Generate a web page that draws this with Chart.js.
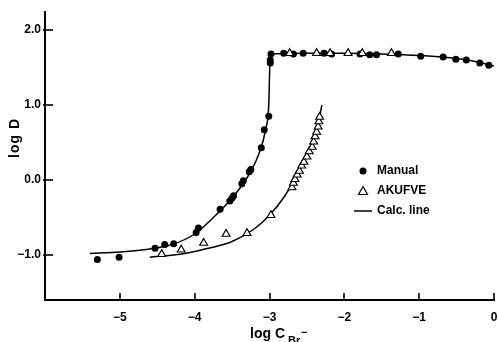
<!DOCTYPE html>
<html>
<head>
<meta charset="utf-8">
<script src="https://cdn.jsdelivr.net/npm/chart.js@4/dist/chart.umd.min.js"></script>
<style>
  html, body { margin: 0; padding: 0; background: #fff; }
  #wrap { width: 498px; height: 342px; position: relative; }
</style>
</head>
<body>
<div id="wrap"><canvas id="chart"></canvas></div>
<script>
// --- data: log D vs log C(Br-) ---
const manualX = [-5.30, -5.01, -4.53, -4.40, -4.28, -3.98, -3.95, -3.66, -3.53, -3.50, -3.48, -3.37, -3.35,
                 -3.27, -3.25, -3.11, -3.07, -3.01, -2.99, -2.99, -2.98, -2.81, -2.68, -2.55, -2.27, -2.17,
                 -1.79, -1.66, -1.57, -1.28, -0.98, -0.68, -0.51, -0.37, -0.19, -0.07];
const manualY = [-1.06, -1.03, -0.91, -0.86, -0.85, -0.70, -0.64, -0.39, -0.28, -0.24, -0.21, -0.05, -0.01,
                 0.11, 0.14, 0.43, 0.67, 0.85, 1.56, 1.60, 1.68, 1.69, 1.68, 1.69, 1.69, 1.68,
                 1.68, 1.67, 1.67, 1.68, 1.65, 1.64, 1.61, 1.60, 1.56, 1.53];

const akufveX = [-4.44, -4.18, -3.88, -3.58, -3.30, -2.98, -2.70, -2.68, -2.66, -2.63, -2.60, -2.57, -2.54,
                 -2.50, -2.47, -2.43, -2.41, -2.39, -2.37, -2.35, -2.34, -2.33,
                 -2.73, -2.37, -2.19, -1.95, -1.76, -1.37];
const akufveY = [-0.99, -0.93, -0.84, -0.72, -0.71, -0.47, -0.10, -0.04, 0.01, 0.07, 0.12, 0.19, 0.24,
                 0.31, 0.38, 0.44, 0.51, 0.58, 0.64, 0.71, 0.78, 0.84,
                 1.69, 1.69, 1.69, 1.69, 1.69, 1.69];

const calcManualX = [-5.4, -5.0, -4.6, -4.3, -4.0, -3.75, -3.5, -3.3, -3.15, -3.05, -3.01, -2.99,
                     -2.5, -2.0, -1.5, -1.0, -0.5, -0.2, 0];
const calcManualY = [-0.98, -0.96, -0.92, -0.86, -0.72, -0.50, -0.24, 0.03, 0.33, 0.68, 1.00, 1.68,
                     1.69, 1.69, 1.68, 1.66, 1.62, 1.57, 1.52];

const calcAkufveX = [-4.6, -4.2, -3.9, -3.5, -3.2, -3.0, -2.8, -2.6, -2.45, -2.35, -2.30];
const calcAkufveY = [-1.03, -0.99, -0.93, -0.82, -0.65, -0.47, -0.22, 0.12, 0.45, 0.75, 1.00];

const xTicks = [-5, -4, -3, -2, -1, 0];
const yTicks = [-1, 0, 1, 2];

const FONT = 'Liberation Sans';
const pts = (xs, ys) => xs.map((x, i) => ({ x: x, y: ys[i] }));
const minus = s => s.replace('-', '\u2212');

// inward tick marks, legend and axis titles
const decorPlugin = {
    id: 'decor',
    afterDraw(chart) {
        const ctx = chart.ctx;
        const xs = chart.scales.x, ys = chart.scales.y;
        const area = chart.chartArea;
        ctx.save();
        ctx.strokeStyle = '#000';
        ctx.lineWidth = 1.6;
        xTicks.forEach(v => {
            const px = Math.round(xs.getPixelForValue(v));
            ctx.beginPath();
            ctx.moveTo(px, area.bottom);
            ctx.lineTo(px, area.bottom - 7);
            ctx.stroke();
        });
        yTicks.forEach(v => {
            const py = Math.round(ys.getPixelForValue(v));
            ctx.beginPath();
            ctx.moveTo(area.left - 2, py);
            ctx.lineTo(area.left + 8, py);
            ctx.stroke();
        });

        // legend
        ctx.fillStyle = '#000';
        ctx.beginPath();
        ctx.arc(363, 171, 3.5, 0, Math.PI * 2);
        ctx.fill();
        ctx.lineWidth = 1.2;
        ctx.fillStyle = '#fff';
        ctx.beginPath();
        ctx.moveTo(363, 186.5);
        ctx.lineTo(367.5, 194.5);
        ctx.lineTo(358.5, 194.5);
        ctx.closePath();
        ctx.fill();
        ctx.stroke();
        ctx.lineWidth = 1.5;
        ctx.beginPath();
        ctx.moveTo(354, 211);
        ctx.lineTo(372, 211);
        ctx.stroke();

        ctx.fillStyle = '#000';
        ctx.font = 'bold 12px "' + FONT + '"';
        ctx.textAlign = 'left';
        ctx.textBaseline = 'middle';
        ctx.fillText('Manual', 377, 171);
        ctx.fillText('AKUFVE', 377, 191);
        ctx.fillText('Calc. line', 377, 211);

        // x title with subscript
        ctx.textBaseline = 'alphabetic';
        ctx.font = 'bold 14px "' + FONT + '"';
        ctx.fillText('log C', 250, 338);
        ctx.font = 'bold 11px "' + FONT + '"';
        ctx.fillText('Br', 288, 344);
        ctx.fillText('\u2212', 301, 336);

        // y title
        ctx.font = 'bold 14px "' + FONT + '"';
        ctx.letterSpacing = '1px';
        ctx.translate(15, 138);
        ctx.rotate(-Math.PI / 2);
        ctx.textAlign = 'center';
        ctx.textBaseline = 'middle';
        ctx.fillText('log D', 0, 0);
        ctx.restore();
    }
};

document.addEventListener('DOMContentLoaded', () => {
    const ctx = document.getElementById('chart').getContext('2d');
    new Chart(ctx, {
        type: 'scatter',
        data: {
            datasets: [{
                label: 'Manual',
                data: pts(manualX, manualY),
                pointStyle: 'circle',
                pointRadius: 3.5,
                backgroundColor: '#000',
                borderColor: '#000',
                borderWidth: 0,
                order: 1
            }, {
                label: 'AKUFVE',
                data: pts(akufveX, akufveY),
                pointStyle: 'triangle',
                pointRadius: 4.5,
                backgroundColor: '#fff',
                borderColor: '#000',
                borderWidth: 1.2,
                order: 0
            }, {
                label: 'Calc. line',
                data: pts(calcManualX, calcManualY),
                showLine: true,
                pointRadius: 0,
                borderColor: '#000',
                borderWidth: 1.5,
                cubicInterpolationMode: 'monotone',
                order: 2
            }, {
                label: 'Calc. line 2',
                data: pts(calcAkufveX, calcAkufveY),
                showLine: true,
                pointRadius: 0,
                borderColor: '#000',
                borderWidth: 1.5,
                cubicInterpolationMode: 'monotone',
                order: 2
            }]
        },
        options: {
            responsive: true,
            maintainAspectRatio: false,
            animation: false,
            layout: { autoPadding: false, padding: { top: 12, right: 4, left: 0, bottom: 0 } },
            plugins: { legend: { display: false }, tooltip: { enabled: false } },
            scales: {
                x: {
                    type: 'linear',
                    min: -6, max: 0,
                    afterBuildTicks: s => { s.ticks = xTicks.map(v => ({ value: v })); },
                    afterFit: s => { s.height = 42; s.paddingLeft = 0; s.paddingRight = 0; },
                    grid: { display: false, drawTicks: false },
                    border: { display: true, color: '#000', width: 2 },
                    ticks: {
                        color: '#000',
                        padding: 10,
                        font: { family: FONT, size: 12, weight: 'bold' },
                        callback: v => minus(String(v))
                    }
                },
                y: {
                    type: 'linear',
                    min: -1.6, max: 2.24,
                    afterBuildTicks: s => { s.ticks = yTicks.map(v => ({ value: v })); },
                    afterFit: s => { s.width = 45; s.paddingTop = 0; s.paddingBottom = 0; },
                    grid: { display: false, drawTicks: false },
                    border: { display: true, color: '#000', width: 2 },
                    ticks: {
                        color: '#000',
                        padding: 4,
                        font: { family: FONT, size: 12, weight: 'bold' },
                        callback: v => minus(v.toFixed(1))
                    }
                }
            }
        },
        plugins: [decorPlugin]
    });
});
</script>
</body>
</html>
